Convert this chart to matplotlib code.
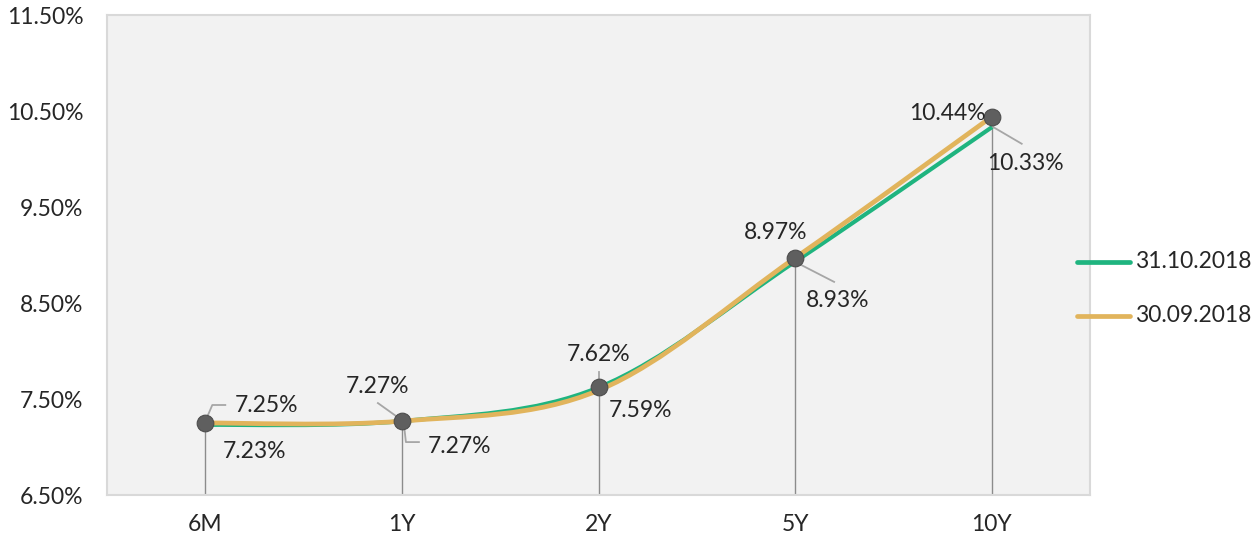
import numpy as np
import matplotlib
matplotlib.use('Agg')
import matplotlib.pyplot as plt
from matplotlib.path import Path
from matplotlib.patches import PathPatch
from matplotlib.lines import Line2D
import matplotlib.transforms as mtransforms

plt.rcParams['font.family'] = ['Lato', 'DejaVu Sans']

tenors = ['6M', '1Y', '2Y', '5Y', '10Y']
oct_2018 = [7.23, 7.27, 7.62, 8.93, 10.33]
sep_2018 = [7.25, 7.27, 7.59, 8.97, 10.44]
series_names = ['31.10.2018', '30.09.2018']
y_ticks = [6.5, 7.5, 8.5, 9.5, 10.5, 11.5]

GREEN = '#1fb47f'
GOLD = '#e1b45c'
TEXT = '#262626'
FS = 16.5
W, H = 1259, 540


def smooth_path(xs, ys):
    # excel-like smoothed line: catmull-rom converted to cubic beziers
    pts = np.column_stack([xs, ys]).astype(float)
    ext = np.vstack([pts[0], pts, pts[-1]])
    verts = [tuple(pts[0])]
    codes = [Path.MOVETO]
    for i in range(1, len(ext) - 2):
        p0, p1, p2, p3 = ext[i - 1], ext[i], ext[i + 1], ext[i + 2]
        c1 = p1 + (p2 - p0) / 6.0
        c2 = p2 - (p3 - p1) / 6.0
        verts += [tuple(c1), tuple(c2), tuple(p2)]
        codes += [Path.CURVE4] * 3
    return Path(verts, codes)


fig = plt.figure(figsize=(W / 100, H / 100), dpi=100)
ax = fig.add_axes([107 / W, 1 - 495 / H, (1090 - 107) / W, (495 - 15) / H])
ax.set_facecolor('#f2f2f2')
x = np.arange(len(tenors))
ax.set_xlim(-0.5, len(tenors) - 0.5)
ax.set_ylim(6.5, 11.5)

for s in ax.spines.values():
    s.set_color('#d9d9d9')
    s.set_linewidth(1.5)

ax.set_yticks(y_ticks)
ax.set_yticklabels([f'{v:.2f}%' for v in y_ticks])
ax.set_xticks(x)
ax.set_xticklabels(tenors)
ax.tick_params(length=0, labelsize=FS, colors=TEXT)
ax.tick_params(axis='y', pad=17)
ax.tick_params(axis='x', pad=14)

ax.add_patch(PathPatch(smooth_path(x, oct_2018), fill=False, edgecolor=GREEN,
                       lw=3.0, capstyle='round', zorder=3))
ax.add_patch(PathPatch(smooth_path(x, sep_2018), fill=False, edgecolor=GOLD,
                       lw=3.4, capstyle='round', zorder=4))

tops = np.maximum(oct_2018, sep_2018)
ax.vlines(x, 6.5, tops, color='#8c8c8c', lw=1.0, zorder=2)
ax.plot(x, tops, 'o', ms=12, color='#5f5f5f', mec='#4d4d4d', mew=0.8, zorder=6)

# labels: (index, value, dx, dy, ha, leader offsets in pixels)
labels = [
    (0, sep_2018[0], 29, 17, 'left', [(1, 4), (7, 18), (20, 18)]),
    (0, oct_2018[0], 17, -29, 'left', None),
    (1, sep_2018[1], -24, 35, 'center', [(-3, 3), (-24, 18)]),
    (1, oct_2018[1], 26, -25, 'left', [(2, -3), (4, -21), (17, -21)]),
    (2, oct_2018[2], 0, 33, 'center', [(0, 3), (0, 15)]),
    (2, sep_2018[2], 10, -23, 'left', None),
    (3, sep_2018[3], -19, 25, 'center', None),
    (3, oct_2018[3], 11, -43, 'left', [(2, -5), (39, -24)]),
    (4, sep_2018[4], -6, 3, 'right', None),
    (4, oct_2018[4], -5, -47, 'left', [(1, -10), (30, -27)]),
]
fig.canvas.draw()
for i, val, dx, dy, ha, lead in labels:
    ax.annotate(f'{val:.2f}%', xy=(x[i], tops[i]), xytext=(dx, dy),
                textcoords='offset pixels', ha=ha, va='center',
                fontsize=FS, color=TEXT, zorder=7)
    if lead:
        px, py = ax.transData.transform((x[i], tops[i]))
        tr = mtransforms.Affine2D().translate(px, py)
        lx, ly = zip(*lead)
        ax.add_line(Line2D(lx, ly, transform=tr, color='#a6a6a6', lw=1.3, zorder=5))

# legend on the right
for name, color, ypix in zip(series_names, [GREEN, GOLD], [262, 316]):
    yf = 1 - ypix / H
    fig.add_artist(Line2D([1077 / W, 1130 / W], [yf, yf], color=color, lw=3.4,
                          solid_capstyle='round', transform=fig.transFigure))
    fig.text(1135 / W, yf, name, fontsize=FS, color=TEXT, va='center', ha='left')

fig.savefig('out.png', dpi=100)
